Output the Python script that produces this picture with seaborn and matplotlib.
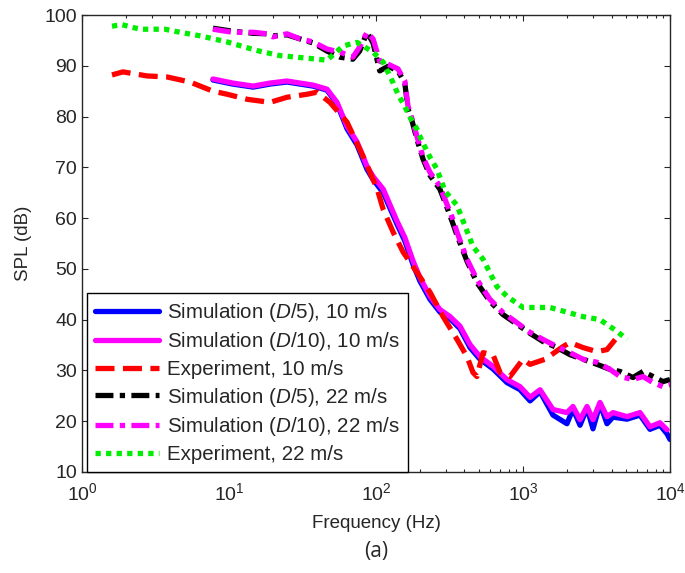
"""
SPL spectra: simulation (two grid resolutions) vs experiment at 10 and 22 m/s.
"""

from matplotlib import pyplot as plt
import pandas as pd
import seaborn as sns

# Simulation (D/5), 10 m/s
f_sim5_10 = [7.78, 10.6, 14.6, 19.0, 24.8, 30.4, 37.3, 46.4, 54.3, 63.5, 74.3, 86.9, 95.5, 112,
             139, 157, 179, 199, 233, 272, 319, 373, 436, 510, 625, 778, 955, 1117, 1306, 1600,
             1991, 2188, 2443, 2725, 2993, 3340, 3727, 4096, 5100, 6250, 7310, 8550, 9550, 10000]
spl_sim5_10 = [87.2, 86.4, 85.8, 86.4, 86.8, 86.4, 86.0, 85.2, 82.5, 77.6, 74.4, 69.6, 67.6, 65.0,
               58.8, 55.5, 50.8, 47.6, 44.0, 41.5, 40.2, 38.2, 34.5, 32.2, 30.3, 27.6, 26.2, 24.0,
               25.8, 21.2, 19.5, 22.4, 19.2, 22.6, 18.5, 23.4, 19.5, 20.8, 20.4, 21.2, 18.4, 19.2,
               17.5, 16.4]

# Simulation (D/10), 10 m/s
f_sim10_10 = [7.78, 10.6, 14.6, 19.0, 24.8, 30.4, 37.3, 46.4, 54.3, 63.5, 74.3, 86.9, 95.5, 112,
              139, 157, 179, 199, 233, 272, 319, 373, 436, 510, 625, 778, 955, 1117, 1306, 1600,
              1991, 2188, 2443, 2725, 2993, 3340, 3727, 4096, 5100, 6250, 7310, 8550, 9550]
spl_sim10_10 = [87.4, 86.6, 86.0, 86.6, 87.0, 86.6, 86.2, 85.4, 82.8, 78.1, 75.0, 70.2, 68.2, 65.7,
                59.4, 56.2, 51.5, 48.3, 44.6, 42.0, 40.6, 38.7, 35.1, 32.7, 30.8, 28.2, 26.8, 24.7,
                26.2, 22.3, 21.7, 22.9, 20.3, 22.9, 20.3, 23.7, 20.9, 21.7, 20.9, 21.7, 18.9, 19.7,
                18.3]

# Experiment, 10 m/s
f_exp_10 = [1.6, 1.9, 2.77, 3.79, 5.43, 7.78, 9.7, 13.3, 19.0, 24.8, 34, 39.7, 48.6, 63.5, 81.6,
            102, 112, 131, 153, 190, 233, 286, 356, 416, 457, 486, 535, 625, 698, 816, 1000, 1117,
            1413, 1873, 2089, 2560, 3187, 3727, 4360]
spl_exp_10 = [88.2, 88.8, 88.0, 87.8, 86.8, 85.0, 84.4, 83.4, 82.8, 83.8, 84.4, 84.8, 82.8, 78.9,
              72.2, 65.7, 61.7, 57.2, 53.3, 49.3, 45.4, 40.6, 36.1, 32.7, 29.6, 28.8, 33.5, 33.1,
              29.6, 28.8, 32.2, 31.2, 32.2, 34.7, 35.5, 34.5, 33.7, 34.1, 36.5]

# Simulation (D/5), 22 m/s
f_sim5_22 = [7.78, 10.6, 14.6, 18.1, 19.9, 24.8, 30.4, 37.3, 46.4, 56.9, 69.6, 77.4, 86.9, 95.5,
             106, 121, 141, 157, 165, 176, 190, 209, 233, 272, 304, 329, 356, 416, 486, 596, 731,
             910, 1117, 1368, 1703, 2089, 2560, 3187, 3908, 4570, 5600, 6550, 7660, 8960, 10000]
spl_sim5_22 = [97.4, 96.8, 96.4, 96.3, 95.9, 96.1, 95.3, 94.5, 92.9, 91.7, 91.3, 92.9, 96.6, 94.5,
               89.0, 89.9, 89.0, 86.6, 81.5, 79.1, 75.5, 71.6, 68.4, 65.7, 62.1, 59.4, 56.6, 51.5,
               47.3, 43.6, 41.0, 39.1, 37.3, 35.7, 34.5, 33.1, 32.2, 31.2, 30.2, 29.8, 28.6, 29.8,
               28.8, 27.8, 28.2]

# Simulation (D/10), 22 m/s
f_sim10_22 = [7.78, 10.6, 14.6, 18.1, 19.9, 24.8, 30.4, 37.3, 46.4, 56.9, 69.6, 77.4, 86.9, 95.5,
              106, 121, 141, 157, 165, 176, 190, 209, 233, 272, 304, 329, 356, 416, 486, 596, 731,
              910, 1117, 1368, 1703, 2089, 2560, 3187, 3908, 4570, 5600, 6550, 7660, 8960, 10000]
spl_sim10_22 = [97.2, 96.6, 96.6, 96.3, 95.7, 96.3, 95.3, 94.7, 93.3, 92.7, 91.7, 93.7, 96.6, 95.3,
                90.9, 90.3, 89.4, 87.0, 82.1, 79.5, 76.1, 72.0, 69.0, 66.3, 62.7, 60.2, 57.2, 51.9,
                47.9, 44.0, 41.4, 39.4, 37.5, 36.1, 34.7, 33.5, 32.2, 31.6, 30.2, 28.8, 28.2, 28.8,
                27.6, 26.8, 27.2]

# Experiment, 22 m/s
f_exp_22 = [1.6, 1.87, 2.48, 3.67, 4.64, 6.35, 9.7, 15.5, 22.2, 34, 46.4, 59.7, 74.3, 95.5, 112,
            131, 141, 157, 170, 190, 206, 233, 260, 295, 356, 457, 535, 665, 778, 1000, 1527, 2560,
            3340, 4360, 5100]
spl_exp_22 = [97.8, 98.1, 97.2, 97.2, 96.6, 95.9, 94.7, 93.0, 92.0, 91.5, 91.1, 93.9, 94.6, 92.7,
              90.7, 86.6, 84.4, 82.0, 79.9, 77.5, 75.1, 72.0, 69.6, 65.3, 62.5, 54.4, 51.9, 46.5,
              44.6, 42.4, 42.4, 40.6, 40.0, 37.7, 36.1]

labels = ['Simulation ($\\mathit{D}$/5), 10 m/s',
          'Simulation ($\\mathit{D}$/10), 10 m/s',
          'Experiment, 10 m/s',
          'Simulation ($\\mathit{D}$/5), 22 m/s',
          'Simulation ($\\mathit{D}$/10), 22 m/s',
          'Experiment, 22 m/s']

series = [
    (f_sim5_10, spl_sim5_10, '#0000ff', '-'),
    (f_sim10_10, spl_sim10_10, '#ff00ff', '-'),
    (f_exp_10, spl_exp_10, '#ff0000', (0, (3.6, 1.6))),
    (f_sim5_22, spl_sim5_22, '#000000', (0, (3.4, 1.2, 1.0, 1.2))),
    (f_sim10_22, spl_sim10_22, '#ff00ff', (0, (3.4, 1.2, 1.0, 1.2))),
    (f_exp_22, spl_exp_22, '#00ee00', (0, (1.0, 1.0))),
]

sns.set_style('ticks')
plt.rcParams['font.family'] = ['Liberation Sans', 'DejaVu Sans']
plt.rcParams['mathtext.fontset'] = 'custom'
plt.rcParams['mathtext.rm'] = 'Liberation Sans'
plt.rcParams['mathtext.it'] = 'Liberation Sans:italic'
plt.rcParams['mathtext.default'] = 'regular'

fig = plt.figure(figsize=(6.85, 5.73), dpi=100)
ax = fig.add_axes([0.1197, 0.1763, 0.8584, 0.7975])

for (f, spl, color, ls), label in zip(series, labels):
    df = pd.DataFrame({'freq': f, 'spl': spl})
    sns.lineplot(data=df, x='freq', y='spl', ax=ax, sort=False, estimator=None,
                 color=color, linestyle=ls, linewidth=3.8, label=label)

ax.set_xscale('log')
ax.set_xlim(1, 1e4)
ax.set_ylim(10, 100)
ax.set_yticks(range(10, 101, 10))
ax.tick_params(which='both', direction='in', top=True, right=True, labelsize=14)
ax.tick_params(axis='x', which='major', pad=7)
ax.tick_params(which='major', length=4, width=0.8)
ax.tick_params(which='minor', length=2.5, width=0.8)
for s in ax.spines.values():
    s.set_linewidth(1.0)

ax.set_xlabel('Frequency (Hz)', fontsize=13.5, labelpad=8)
ax.set_ylabel('SPL (dB)', fontsize=13.5, labelpad=9)

leg = ax.legend(loc='lower left', bbox_to_anchor=(0.0085, 0.0), borderaxespad=0,
                fontsize=14.8, handlelength=3.1, handletextpad=0.4, labelspacing=0.32,
                frameon=True, fancybox=False, edgecolor='black', framealpha=1)
leg.get_frame().set_linewidth(1.0)

fig.text(0.549, 0.037, '(a)', ha='center', va='center', fontsize=15,
         family=['Open Sans', 'DejaVu Sans'])

plt.savefig('out.png', dpi=100)
